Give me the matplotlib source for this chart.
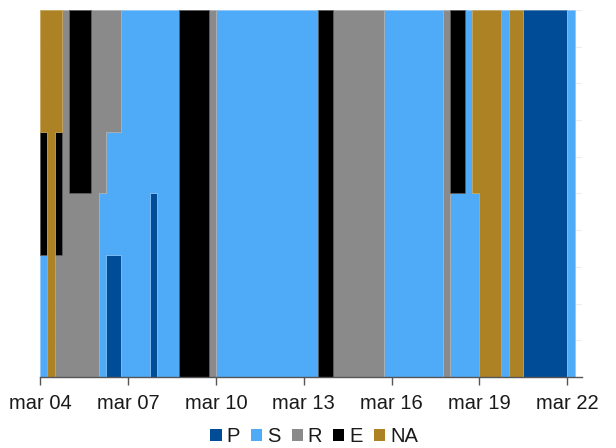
import matplotlib
matplotlib.use("Agg")
import matplotlib.pyplot as plt
import matplotlib.dates as mdates
from matplotlib.patches import Patch
import numpy as np
from datetime import datetime, timedelta

# 6-hourly observation counts per category (starting mar 04 00:00)
P  = [0,0,0,0, 0,0,0,0, 0,1,1,0, 0,0,0,1, 0,0,0,0, 0,0,0,0,
      0,0,0,0, 0,0,0,0, 0,0,0,0, 0,0,0,0, 0,0,0,0, 0,0,0,0,
      0,0,0,0, 0,0,0,0, 0,0,0,0, 0,0,0,0, 0,0,1,1, 1,1,1,1, 0]
S  = [1,0,0,0, 0,0,0,0, 1,1,1,1, 1,1,1,1, 1,1,1,0, 0,0,0,0,
      1,1,1,1, 1,1,1,1, 1,1,1,1, 1,1,0,0, 0,0,0,0, 0,0,0,1,
      1,1,1,1, 1,1,1,0, 1,1,1,1, 0,0,0,1, 0,0,0,0, 0,0,0,0, 1]
R  = [0,0,1,1, 1,1,1,1, 1,1,1,0, 0,0,0,0, 0,0,0,0, 0,0,0,1,
      0,0,0,0, 0,0,0,0, 0,0,0,0, 0,0,0,0, 1,1,1,1, 1,1,1,0,
      0,0,0,0, 0,0,0,1, 0,0,0,0, 0,0,0,0, 0,0,0,0, 0,0,0,0, 0]
E  = [1,0,1,0, 1,1,1,0, 0,0,0,0, 0,0,0,0, 0,0,0,1, 1,1,1,0,
      0,0,0,0, 0,0,0,0, 0,0,0,0, 0,0,1,1, 0,0,0,0, 0,0,0,0,
      0,0,0,0, 0,0,0,0, 1,1,0,0, 0,0,0,0, 0,0,0,0, 0,0,0,0, 0]
NA = [1,1,1,0, 0,0,0,0, 0,0,0,0, 0,0,0,0, 0,0,0,0, 0,0,0,0,
      0,0,0,0, 0,0,0,0, 0,0,0,0, 0,0,0,0, 0,0,0,0, 0,0,0,0,
      0,0,0,0, 0,0,0,0, 0,0,0,1, 1,1,1,0, 1,1,0,0, 0,0,0,0, 0]

labels = ["P", "S", "R", "E", "NA"]
colors = ["#004C97", "#4FAAF8", "#8A8A8A", "#000000", "#AD8224"]
edge_colors = ["#4A7DB3", "#8CC7FA", "#B0B0B0", "#5A5A5A", "#C9A45A"]

start = datetime(2020, 3, 4)
tick_days = [0, 3, 6, 9, 12, 15, 18]
tick_labels = ["mar 04", "mar 07", "mar 10", "mar 13", "mar 16", "mar 19", "mar 22"]

plt.rcParams['font.family'] = ['Liberation Sans', 'DejaVu Sans']

series = np.array([P, S, R, E, NA], dtype=float)
n = series.shape[1]
total = series.sum(axis=0)
frac = series / total

times = [start + timedelta(hours=6 * i) for i in range(n + 1)]
x = mdates.date2num(times)

fig = plt.figure(figsize=(6.16, 4.48), dpi=100)
ax = fig.add_axes([0.0651, 0.1585, 0.8797, 0.8192])

for yv in np.arange(0.1, 1.01, 0.1):
    ax.axhline(yv, color="#EDEDED", lw=0.8, zorder=0)

base = np.zeros(n)
for i in range(5):
    top = base + frac[i]
    nz = frac[i] > 0
    j = 0
    while j < n:
        if nz[j]:
            k = j
            while k < n and nz[k]:
                k += 1
            xs = x[j:k + 1]
            yb = np.append(base[j:k], base[k - 1])
            yt = np.append(top[j:k], top[k - 1])
            ax.fill_between(xs, yb, yt, step="post", facecolor=colors[i],
                            edgecolor=edge_colors[i], linewidth=0.5, zorder=2)
            j = k
        else:
            j += 1
    base = top

ax.set_ylim(0, 1)
ax.set_xlim(mdates.date2num(start), mdates.date2num(start + timedelta(days=18.5)))
ax.set_yticks([])
ticks = [mdates.date2num(start + timedelta(days=d)) for d in tick_days]
ax.set_xticks(ticks)
ax.set_xticklabels(tick_labels, fontsize=14.5, color="#1A1A1A")
ax.tick_params(axis="x", length=6, width=1, color="#555555", pad=6)
for s in ["left", "top", "right"]:
    ax.spines[s].set_visible(False)
ax.spines["bottom"].set_color("#555555")
ax.spines["bottom"].set_linewidth(1)
ax.spines["bottom"].set_zorder(5)

handles = [Patch(facecolor=c, edgecolor="none") for c in colors]
fig.legend(handles, labels, loc="center", bbox_to_anchor=(0.51, 0.025),
           ncol=5, frameon=False, fontsize=14.5, handlelength=0.55,
           handleheight=0.55, handletextpad=0.25, columnspacing=0.55,
           labelcolor="#1A1A1A")

fig.savefig("out.png", dpi=100)
